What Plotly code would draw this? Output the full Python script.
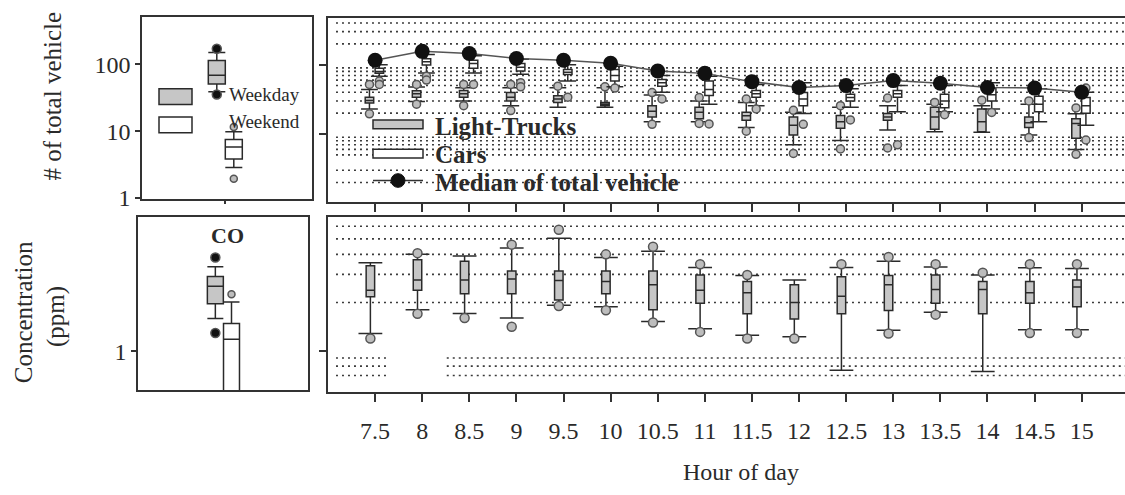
import plotly.graph_objects as go

W, H = 1125, 495
FONT = "Liberation Serif, Times New Roman, serif"
INK = "#2a2a2a"
GRAY = "#c6c6c6"
OUT_FILL = "#bdbdbd"

# ---------------- data ----------------
hours = [7.5, 8, 8.5, 9, 9.5, 10, 10.5, 11, 11.5, 12, 12.5, 13, 13.5, 14, 14.5, 15]
hour_labels = ["7.5", "8", "8.5", "9", "9.5", "10", "10.5", "11", "11.5", "12",
               "12.5", "13", "13.5", "14", "14.5", "15"]

# median of total vehicle count per half hour
median_total = [116, 156, 145, 123, 116, 105, 81, 75, 57, 47, 50, 59, 54, 47, 46, 40]

# light-trucks counts (box statistics)
truck_lo = [23, 29.5, 30, 25.6, 24.3, 24.3, 15, 15, 12.4, 7, 8.1, 11.4, 10.8, 10.6, 9.7, 6]
truck_q1 = [28, 34, 34, 30, 28.6, 25.6, 17.6, 16.6, 15.8, 9.7, 12.1, 15.8, 11.7, 10.8, 12.4, 8.7]
truck_med = [30.5, 38, 38, 34, 32, 27, 21.3, 20.7, 18.3, 13.4, 15, 17.6, 17.6, 15, 14.5, 14.2]
truck_q3 = [34, 42, 42.5, 39.6, 35.6, 28.6, 25.6, 24.3, 20.7, 17.6, 18.5, 19.8, 24.3, 23, 17.6, 16.6]
truck_hi = [44, 47.5, 46.5, 46.5, 46.5, 46.5, 36.6, 30, 28.6, 20.7, 24.3, 25.6, 27, 25.6, 27, 19.6]
truck_out = [[19.6, 52], [27, 52], [25.6, 52], [21.8, 52], [49], [48], [13.8, 39.6],
             [33.6, 14.2], [32, 11], [5.25, 22], [6.1, 25.6], [33, 6.3], [28.6],
             [30.8], [30, 8.9], [23.8, 5.1]]

# cars counts (box statistics)
car_lo = [68, 76, 76, 73, 58, 48, 40, 27, 25.6, 19.8, 24.3, 21, 21, 23, 15, 13.4]
car_q1 = [75, 99, 89, 81, 72, 58, 49, 36, 34, 25.6, 30, 34, 24, 30, 21, 20]
car_med = [80, 110, 104, 92, 78, 70, 55, 44, 38, 32, 33.6, 38, 30, 37, 27, 25.6]
car_q3 = [89, 122, 116, 104, 85, 85, 61, 58, 42.5, 39.6, 37.5, 42.5, 37.5, 46, 35, 33.6]
car_hi = [100, 140, 135, 120, 100, 95, 70, 68, 52, 55, 45, 50, 50, 55, 45, 40]
car_out = [[58, 52], [68, 60], [52], [55, 48], [34], [46], [32], [14], [23], [13.8],
           [16], [7], [19], [20.5], [], [46, 8.2]]

# CO concentration (ppm) per half hour
co_lo = [1.28, 1.8, 1.71, 1.6, 1.92, 1.88, 1.52, 1.37, 1.25, 1.22, 0.755, 1.34, 1.74, 0.74, 1.35, 1.35]
co_q1 = [2.17, 2.39, 2.27, 2.27, 2.07, 2.27, 1.8, 1.98, 1.7, 1.58, 1.7, 1.78, 1.98, 1.7, 1.98, 1.88]
co_med = [2.39, 2.77, 2.77, 2.81, 2.75, 2.71, 2.58, 2.39, 2.3, 2.0, 2.19, 2.58, 2.41, 2.41, 2.3, 2.5]
co_q3 = [3.4, 3.7, 3.62, 3.15, 3.15, 3.15, 3.15, 2.97, 2.71, 2.58, 2.9, 2.95, 2.97, 2.71, 2.71, 2.77]
co_hi = [3.55, 4.0, 3.9, 4.38, 5.04, 3.82, 4.18, 3.31, 2.95, 2.77, 3.31, 3.62, 3.34, 2.97, 3.3, 3.26]
co_out = [[1.19], [4.07, 1.7], [1.6], [4.6, 1.41], [5.7, 1.9], [4.0, 1.79], [4.46, 1.5],
          [3.47, 1.31], [2.97, 1.19], [1.19], [3.47], [3.85, 1.28], [3.47, 1.68],
          [3.07], [3.47, 1.29], [3.47, 1.29]]

# weekday / weekend summaries (inset panels)
total_weekday = dict(lo=39, q1=51, med=69, q3=114, hi=150, out=[171, 35.5])
total_weekend = dict(lo=2.86, q1=3.84, med=5.8, q3=7.5, hi=9.8, out=[11.6, 1.94])
co_weekday = dict(lo=1.6, q1=1.98, med=2.55, q3=2.93, hi=3.37, out=[3.85, 1.3])
co_weekend = dict(lo=0.45, q1=0.5, med=1.19, q3=1.49, hi=2.03, out=[2.27])

# gridline levels
grid_top = [2, 3, 5, 6, 7, 8, 9, 20, 30, 40, 50, 60, 70, 80, 90, 200, 300, 400]
grid_bottom_upper = [2, 3, 4, 5, 6]
grid_bottom_lower = [0.7, 0.8, 0.9]


def px(x):
    return x / W


def py(y):
    return 1 - y / H


fig = go.Figure()

# ---------------- main panels ----------------
TRUCK_SHIFT, CAR_SHIFT, CO_SHIFT = -0.06, 0.045, -0.05


def add_box(xs, lo, q1, med, q3, hi, fill, xa, ya, width, caplen):
    fig.add_trace(go.Box(
        x=xs, lowerfence=lo, q1=q1, median=med, q3=q3, upperfence=hi,
        fillcolor=fill, line=dict(color=INK, width=1.5), whiskerwidth=0,
        width=width, boxpoints=False, xaxis=xa, yaxis=ya, showlegend=False,
        hoverinfo="skip"))
    fig.add_trace(go.Scatter(
        x=list(xs) + list(xs), y=list(lo) + list(hi), mode="markers",
        marker=dict(symbol="line-ew", size=caplen, line=dict(color=INK, width=1.5)),
        xaxis=xa, yaxis=ya, showlegend=False, hoverinfo="skip"))


def add_outliers(xs, groups, xa, ya, size, color=OUT_FILL):
    ox, oy = [], []
    for x, g in zip(xs, groups):
        for v in g:
            ox.append(x)
            oy.append(v)
    fig.add_trace(go.Scatter(
        x=ox, y=oy, mode="markers",
        marker=dict(symbol="circle", size=size, color=color, line=dict(color="#555", width=1.5)),
        xaxis=xa, yaxis=ya, showlegend=False, hoverinfo="skip"))


truck_x = [h + TRUCK_SHIFT for h in hours]
car_x = [h + CAR_SHIFT for h in hours]
co_x = [h + CO_SHIFT for h in hours]

add_box(truck_x, truck_lo, truck_q1, truck_med, truck_q3, truck_hi, GRAY, "x2", "y2", 0.09, 12)
add_outliers(truck_x, truck_out, "x2", "y2", 8)
add_box(car_x, car_lo, car_q1, car_med, car_q3, car_hi, "white", "x2", "y2", 0.09, 12)
add_outliers(car_x, car_out, "x2", "y2", 8)

fig.add_trace(go.Scatter(
    x=hours, y=median_total, mode="lines+markers",
    line=dict(color="#555", width=1.5),
    marker=dict(size=15, color="#111"),
    xaxis="x2", yaxis="y2", showlegend=False, hoverinfo="skip"))

add_box(co_x, co_lo, co_q1, co_med, co_q3, co_hi, GRAY, "x4", "y4", 0.09, 17)
add_outliers(co_x, co_out, "x4", "y4", 9)

# ---------------- inset panels ----------------
def add_inset_box(pos, s, fill, xa, ya, width):
    fig.add_trace(go.Box(
        x=[pos], lowerfence=[s["lo"]], q1=[s["q1"]], median=[s["med"]], q3=[s["q3"]],
        upperfence=[s["hi"]], fillcolor=fill, line=dict(color=INK, width=1.5),
        whiskerwidth=1, width=width, boxpoints=False, xaxis=xa, yaxis=ya,
        showlegend=False, hoverinfo="skip"))


add_inset_box(0.44, total_weekday, GRAY, "x", "y", 0.1)
add_inset_box(0.54, total_weekend, "white", "x", "y", 0.1)
add_outliers([0.44], [total_weekday["out"]], "x", "y", 9, color="#111")
add_outliers([0.54], [total_weekend["out"]], "x", "y", 7)

add_inset_box(0.455, co_weekday, GRAY, "x3", "y3", 0.094)
add_inset_box(0.55, co_weekend, "white", "x3", "y3", 0.094)
add_outliers([0.455], [co_weekday["out"]], "x3", "y3", 9, color="#111")
add_outliers([0.55], [co_weekend["out"]], "x3", "y3", 7)

# ---------------- gridlines ----------------
shapes = []
DOT = dict(color="#3a3a3a", width=1.6, dash="2px,4px")
for v in grid_top:
    shapes.append(dict(type="line", xref="x2 domain", yref="y2", x0=0.01, x1=1,
                       y0=v, y1=v, line=DOT, layer="below"))
for v in grid_bottom_upper:
    shapes.append(dict(type="line", xref="x4 domain", yref="y4", x0=0.01, x1=1,
                       y0=v, y1=v, line=DOT, layer="below"))
for v in grid_bottom_lower:
    for a, b in [(0.01, 0.074), (0.149, 1)]:
        shapes.append(dict(type="line", xref="x4 domain", yref="y4", x0=a, x1=b,
                           y0=v, y1=v, line=DOT, layer="below"))

# ---------------- legends drawn in the panels ----------------
def rect(x0, y0, x1, y1, fill):
    return dict(type="rect", xref="paper", yref="paper", x0=px(x0), x1=px(x1),
                y0=py(y1), y1=py(y0), fillcolor=fill, line=dict(color=INK, width=1.5))


shapes += [
    rect(373, 123, 423, 132, GRAY),
    rect(373, 153, 423, 162, "white"),
    dict(type="line", xref="paper", yref="paper", x0=px(373), x1=px(423),
         y0=py(185), y1=py(185), line=dict(color="#333", width=1.5)),
    dict(type="circle", xref="paper", yref="paper", x0=px(391), x1=px(405),
         y0=py(192), y1=py(178), fillcolor="#111", line=dict(color="#111", width=1)),
    rect(159, 91, 192, 107, GRAY),
    rect(159, 120, 192, 136, "white"),
]

annotations = []


def text(x, y, s, size, xanchor="left", angle=0, bold=False):
    annotations.append(dict(
        x=px(x), y=py(y), xref="paper", yref="paper", text=("<b>%s</b>" % s) if bold else s,
        showarrow=False, xanchor=xanchor, yanchor="middle", textangle=angle,
        font=dict(family=FONT, size=size, color=INK)))


text(433, 130, "Light-Trucks", 25, bold=True)
text(433, 158, "Cars", 25, bold=True)
text(433, 187, "Median of total vehicle", 25, bold=True)
text(227, 97, "Weekday", 19)
text(227, 125, "Weekend", 19)
text(227, 241, "CO", 22, xanchor="center", bold=True)
text(53, 99, "# of total vehicle", 25, xanchor="center", angle=-90)
text(23, 320, "Concentration", 25, xanchor="center", angle=-90)
text(56, 325, "(ppm)", 25, xanchor="center", angle=-90)
text(741, 484, "Hour of day", 24, xanchor="center")

# ---------------- axes ----------------
AX = dict(showline=True, linecolor="#333", linewidth=1.6, showgrid=False, zeroline=False,
          tickcolor="#333", tickwidth=1.5, tickfont=dict(family=FONT, size=24, color=INK))

fig.update_layout(
    width=W, height=H, margin=dict(l=0, r=0, t=0, b=0),
    paper_bgcolor="white", plot_bgcolor="white", showlegend=False,
    shapes=shapes, annotations=annotations,
    xaxis=dict(AX, domain=[px(142), px(312)], range=[0, 1], anchor="y", mirror=True,
               ticks="outside", ticklen=3, tickvals=[0.49], showticklabels=False),
    yaxis=dict(AX, type="log", domain=[py(204), py(17)], range=[-0.015, 2.715], anchor="x",
               mirror=True, ticks="outside", ticklen=5, tickvals=[1, 10, 100],
               ticktext=["1", "10", "100"]),
    xaxis2=dict(AX, domain=[px(328), 1], range=[7.0, 15.46], anchor="y2", mirror=True,
                ticks="outside", ticklen=8, tickvals=hours, showticklabels=False),
    yaxis2=dict(AX, type="log", domain=[py(207), py(18)], range=[0.02, 2.68], anchor="x2",
                ticks="outside", ticklen=7, tickvals=[1, 10, 100], showticklabels=False),
    xaxis3=dict(AX, domain=[px(138), px(308)], range=[0, 1], anchor="y3", mirror=True,
                ticks="", showticklabels=False),
    yaxis3=dict(AX, type="log", domain=[py(400), py(222)], range=[-0.244, 0.841], anchor="x3",
                mirror=True, ticks="outside", ticklen=5, tickvals=[1], ticktext=["1"]),
    xaxis4=dict(AX, domain=[px(328), 1], range=[7.0, 15.46], anchor="y4", mirror=True,
                ticks="outside", ticklen=8, tickvals=hours, ticktext=hour_labels,
                ticklabelstandoff=8),
    yaxis4=dict(AX, type="log", domain=[py(402), py(222)], range=[-0.26, 0.838], anchor="x4",
                ticks="outside", ticklen=7, tickvals=[1], showticklabels=False),
)

fig.write_html("out.html")
